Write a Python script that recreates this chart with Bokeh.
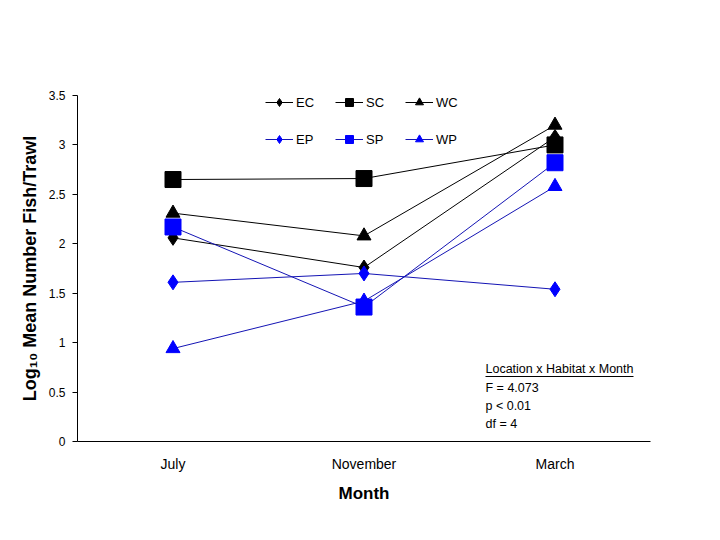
from bokeh.plotting import figure
from bokeh.models import (FactorRange, Legend, LegendItem, Label, BoxAnnotation,
                          CustomJSTickFormatter, FixedTicker)
from bokeh.embed import file_html
from bokeh.resources import INLINE

months = ["July", "November", "March"]

EC = [2.06, 1.76, 3.08]
SC = [2.65, 2.66, 3.00]
WC = [2.31, 2.08, 3.20]
EP = [1.61, 1.70, 1.54]
SP = [2.17, 1.36, 2.82]
WP = [0.94, 1.42, 2.58]

series_names = ["EC", "SC", "WC", "EP", "SP", "WP"]
series_values = [EC, SC, WC, EP, SP, WP]

stats_lines = ["Location x Habitat x Month", "F = 4.073", "p < 0.01", "df = 4"]

y_ticks = [0, 0.5, 1, 1.5, 2, 2.5, 3, 3.5]

FONT = "Liberation Sans"
BLACK = "#000000"
BLUE = "#0000FF"
BLUE_LINE = "#1414b4"

styles = {
    "EC": dict(marker="diamond", size=15, color=BLACK, line=BLACK),
    "SC": dict(marker="square", size=16, color=BLACK, line=BLACK),
    "WC": dict(marker="triangle", size=14, color=BLACK, line=BLACK),
    "EP": dict(marker="diamond", size=15, color=BLUE, line=BLUE_LINE),
    "SP": dict(marker="square", size=16, color=BLUE, line=BLUE_LINE),
    "WP": dict(marker="triangle", size=14, color=BLUE, line=BLUE_LINE),
}

p = figure(x_range=FactorRange(*months), y_range=(0, 3.5),
           width=712, height=532, output_backend="svg", toolbar_location=None,
           min_border_left=77, min_border_right=62, min_border_top=95,
           min_border_bottom=91)
p.outline_line_color = None
p.xgrid.visible = False
p.ygrid.visible = False
p.background_fill_color = "white"
p.border_fill_color = "white"

items = {}
for name, vals in zip(series_names, series_values):
    st = styles[name]
    r1 = p.line(months, vals, line_color=st["line"], line_width=1)
    r2 = p.scatter(months, vals, marker=st["marker"], size=st["size"],
                   fill_color=st["color"], line_color=st["color"], line_width=1)
    items[name] = [r1, r2]

legend = Legend(items=[LegendItem(label=n, renderers=items[n]) for n in series_names],
                ncols=3, orientation="horizontal",
                location=(188, 292), border_line_color=None,
                background_fill_alpha=0, padding=0, margin=0, spacing=17,
                glyph_width=28, glyph_height=20, label_height=20, label_width=22,
                label_standoff=3, label_text_font=FONT, label_text_font_size="13px",
                label_text_color=BLACK)
p.add_layout(legend, "center")

# axes
p.xaxis.axis_label = "Month"
p.xaxis.axis_label_text_font = FONT
p.xaxis.axis_label_text_font_style = "bold"
p.xaxis.axis_label_text_font_size = "17px"
p.xaxis.axis_label_text_color = BLACK
p.xaxis.axis_label_standoff = 9
p.xaxis.major_label_text_font = FONT
p.xaxis.major_label_text_font_size = "14px"
p.xaxis.major_label_text_color = BLACK
p.xaxis.major_label_standoff = 8
p.xaxis.major_tick_line_color = None
p.xaxis.minor_tick_line_color = None
p.xaxis.axis_line_color = BLACK

p.yaxis.axis_label = "Log\u2081\u2080 Mean Number Fish/Trawl"
p.yaxis.axis_label_text_font = FONT
p.yaxis.axis_label_text_font_style = "bold"
p.yaxis.axis_label_text_font_size = "18px"
p.yaxis.axis_label_text_color = BLACK
p.yaxis.axis_label_standoff = 6
p.yaxis.major_label_text_font = FONT
p.yaxis.major_label_text_font_size = "12px"
p.yaxis.major_label_text_color = BLACK
p.yaxis.ticker = FixedTicker(ticks=y_ticks)
p.yaxis.formatter = CustomJSTickFormatter(code="return String(tick)")
p.yaxis.major_tick_in = 0
p.yaxis.major_tick_out = 5
p.yaxis.minor_tick_line_color = None
p.yaxis.major_label_standoff = 7
p.yaxis.axis_line_color = BLACK

# stats annotation
line_y = [73, 54, 36, 18]
for txt, yy in zip(stats_lines, line_y):
    p.add_layout(Label(x=408, y=yy, x_units="screen", y_units="screen", text=txt,
                       text_font=FONT, text_font_size="12.5px",
                       text_baseline="middle", text_align="left",
                       text_color=BLACK))
p.add_layout(BoxAnnotation(left=408, right=556, bottom=64.5, top=65.5,
                           left_units="screen", right_units="screen",
                           bottom_units="screen", top_units="screen",
                           fill_color=BLACK, fill_alpha=1, line_color=None))

open("out.html", "w").write(file_html(p, INLINE))
